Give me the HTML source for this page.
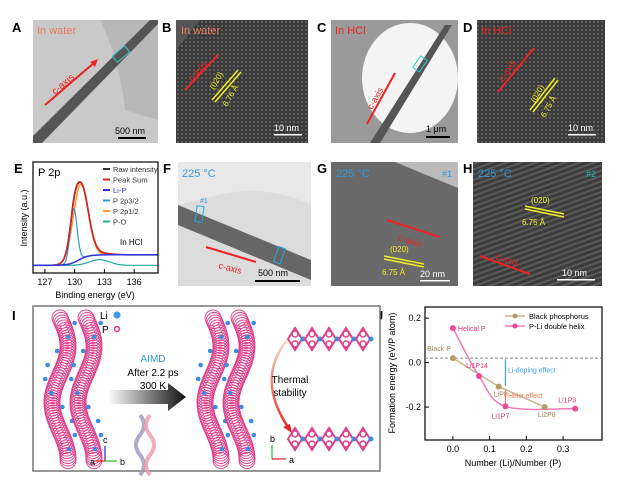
<!DOCTYPE html>
<html><head><meta charset="utf-8"><style>
body{margin:0;background:#fff;}
svg{display:block;font-family:"Liberation Sans",sans-serif;}
</style></head><body>
<svg id="fig" width="636" height="483" viewBox="0 0 636 483">
<defs>
<pattern id="lat" width="4" height="4" patternUnits="userSpaceOnUse"><rect width="4" height="4" fill="#3a3a3a"/><circle cx="2" cy="2" r="1" fill="#6a6a6a"/></pattern>
<pattern id="lines" width="5" height="5" patternUnits="userSpaceOnUse" patternTransform="rotate(-20)"><rect width="5" height="5" fill="#3c3c3c"/><rect width="5" height="2" fill="#5a5a5a"/></pattern>
<linearGradient id="arrowg" x1="0" x2="1"><stop offset="0" stop-color="#fff"/><stop offset="1" stop-color="#111"/></linearGradient>
<linearGradient id="curveg" x1="0" y1="0" x2="0" y2="1"><stop offset="0" stop-color="#f3d9c9"/><stop offset="1" stop-color="#e52b1e"/></linearGradient>
</defs>

<g font-weight="bold" font-size="13" fill="#000">
<text x="12" y="32">A</text>
<text x="162" y="32">B</text>
<text x="317" y="32">C</text>
<text x="463" y="32">D</text>
<text x="14" y="173">E</text>
<text x="163" y="173">F</text>
<text x="317" y="173">G</text>
<text x="463" y="173">H</text>
<text x="12" y="320">I</text>
<text x="376" y="320">J</text>
</g>

<g>
<rect x="33" y="20" width="125" height="123" fill="#c9c9c9"/>
<path d="M100 20 Q120 60 125 110 L158 120 L158 20 Z" fill="#b8b8b8"/>
<polygon points="33,136 33,143 42,143 158,24 158,20 150,20" fill="#555"/>
<rect x="113" y="50" width="16" height="8" fill="none" stroke="#3cc" transform="rotate(-40 121 54)"/>
<line x1="45" y1="105" x2="95" y2="62" stroke="#e22" stroke-width="2"/><polygon points="98,59 90,62 95,67" fill="#e22"/>
<text x="55" y="95" fill="#e22" font-size="10" transform="rotate(-40 55 95)">c-axis</text>
<text x="37" y="34" fill="#e87c5c" font-size="11">In water</text>
<rect x="118" y="137" width="28" height="2" fill="#000"/><text x="115" y="134" font-size="9">500 nm</text>
</g>
<g>
<rect x="176" y="20" width="132" height="123" fill="url(#lat)"/>
<polygon points="176,20 200,20 176,50" fill="#555"/>
<text x="181" y="34" fill="#e87c5c" font-size="11">In water</text>
<line x1="185" y1="90" x2="218" y2="55" stroke="#e22" stroke-width="2"/>
<text x="192" y="82" fill="#e22" font-size="9" transform="rotate(-48 192 82)">c-axis</text>
<line x1="212" y1="100" x2="238" y2="70" stroke="#ee2" stroke-width="1.5"/><line x1="215" y1="102" x2="241" y2="72" stroke="#ee2" stroke-width="1.5"/>
<text x="214" y="90" fill="#ee2" font-size="8" transform="rotate(-60 214 90)">(020)</text>
<text x="227" y="107" fill="#ee2" font-size="8" transform="rotate(-60 227 107)">6.76 Å</text>
<rect x="274" y="134" width="28" height="1.5" fill="#fff"/><text x="274" y="131" fill="#fff" font-size="9">10 nm</text>
</g>
<g>
<rect x="331" y="20" width="127" height="123" fill="#9a9a9a"/>
<ellipse cx="410" cy="78" rx="48" ry="55" fill="#f4f4f4"/>
<polygon points="370,143 380,143 452,25 445,25" fill="#555"/>
<rect x="413" y="60" width="14" height="8" fill="none" stroke="#3cc" transform="rotate(-55 420 64)"/>
<line x1="367" y1="124" x2="395" y2="73" stroke="#e22" stroke-width="2"/>
<text x="372" y="110" fill="#e22" font-size="9" transform="rotate(-60 372 110)">c-axis</text>
<text x="335" y="34" fill="#e22" font-size="11">In HCl</text>
<rect x="426" y="136" width="24" height="2" fill="#000"/><text x="426" y="132" font-size="9">1 μm</text>
</g>
<g>
<rect x="477" y="20" width="128" height="123" fill="url(#lat)"/>
<text x="481" y="34" fill="#e22" font-size="11">In HCl</text>
<line x1="498" y1="92" x2="534" y2="48" stroke="#e22" stroke-width="2"/>
<text x="503" y="82" fill="#e22" font-size="9" transform="rotate(-55 503 82)">c-axis</text>
<line x1="530" y1="110" x2="555" y2="78" stroke="#ee2" stroke-width="1.5"/><line x1="533" y1="112" x2="558" y2="80" stroke="#ee2" stroke-width="1.5"/>
<text x="535" y="103" fill="#ee2" font-size="8" transform="rotate(-60 535 103)">(020)</text>
<text x="545" y="118" fill="#ee2" font-size="8" transform="rotate(-60 545 118)">6.75 Å</text>
<rect x="568" y="134" width="28" height="1.5" fill="#fff"/><text x="568" y="131" fill="#fff" font-size="9">10 nm</text>
</g>

<g id="chartE">
<rect x="33" y="162" width="125" height="111" fill="none" stroke="#000" stroke-width="1.2"/>
<text x="38" y="176" font-size="11">P 2p</text>
<text x="120" y="245" font-size="8">In HCl</text>
<text x="27" y="218" font-size="9" transform="rotate(-90 27 218)" text-anchor="middle">Intensity (a.u.)</text>
<text x="95" y="298" font-size="9" text-anchor="middle">Binding energy (eV)</text>
<g id="eTicks"></g>
<g id="eLines"></g>
<g id="eLegend"></g>
</g>

<g>
<rect x="178" y="162" width="133" height="124" fill="#dcdcdc"/>
<path d="M178 162 L311 162 L311 205 Q260 180 200 200 L178 205 Z" fill="#e8e8e8"/>
<polygon points="178,205 311,260 311,280 178,225" fill="#666"/>
<rect x="196" y="206" width="7" height="16" fill="none" stroke="#2ad" transform="rotate(8 199 214)"/>
<rect x="276" y="247" width="7" height="16" fill="none" stroke="#2ad" transform="rotate(20 279 255)"/>
<text x="200" y="203" fill="#2ad" font-size="7">#1</text>
<line x1="206" y1="247" x2="256" y2="262" stroke="#e22" stroke-width="2"/>
<text x="218" y="268" fill="#e22" font-size="9" transform="rotate(15 218 268)">c-axis</text>
<text x="182" y="177" fill="#39d" font-size="11">225 °C</text>
<rect x="255" y="280" width="45" height="2" fill="#000"/><text x="258" y="276" font-size="9">500 nm</text>
</g>
<g>
<rect x="331" y="162" width="127" height="124" fill="#6a6a6a"/>
<polygon points="395,162 458,162 458,188" fill="#bbb"/>
<text x="336" y="177" fill="#39d" font-size="11">225 °C</text>
<text x="442" y="177" fill="#39d" font-size="9">#1</text>
<line x1="387" y1="220" x2="440" y2="237" stroke="#e22" stroke-width="2"/>
<text x="398" y="240" fill="#e22" font-size="9" transform="rotate(18 398 240)">c-axis</text>
<line x1="384" y1="256" x2="424" y2="264" stroke="#ee2" stroke-width="1.5"/>
<line x1="384" y1="259" x2="424" y2="267" stroke="#ee2" stroke-width="1.5"/>
<text x="390" y="252" fill="#ee2" font-size="8">(020)</text>
<text x="382" y="275" fill="#ee2" font-size="8">6.75 Å</text>
<rect x="420" y="280" width="30" height="1.5" fill="#fff"/><text x="420" y="277" fill="#fff" font-size="9">20 nm</text>
</g>
<g>
<rect x="473" y="162" width="129" height="124" fill="url(#lines)"/>
<text x="478" y="177" fill="#39d" font-size="11">225 °C</text>
<text x="586" y="177" fill="#2bb" font-size="9">#2</text>
<line x1="525" y1="206" x2="564" y2="214" stroke="#ee2" stroke-width="1.5"/>
<line x1="525" y1="209" x2="564" y2="217" stroke="#ee2" stroke-width="1.5"/>
<text x="531" y="203" fill="#ee2" font-size="8">(020)</text>
<text x="522" y="225" fill="#ee2" font-size="8">6.75 Å</text>
<line x1="480" y1="256" x2="530" y2="274" stroke="#e22" stroke-width="2"/>
<text x="495" y="259" fill="#e22" font-size="9" transform="rotate(18 495 259)">c-axis</text>
<rect x="557" y="279" width="38" height="1.5" fill="#fff"/><text x="562" y="276" fill="#fff" font-size="9">10 nm</text>
</g>

<g>
<rect x="33" y="306" width="347" height="165" fill="#fff" stroke="#777" stroke-width="1.5"/>
<g id="helices"></g>
<circle cx="117" cy="315" r="3.5" fill="#39e"/><text x="100" y="319" font-size="10">Li</text>
<circle cx="117" cy="329" r="2.5" fill="none" stroke="#e38" stroke-width="1.5"/><text x="102" y="333" font-size="10">P</text>
<text x="153" y="362" fill="#39d" font-size="10" text-anchor="middle">AIMD</text>
<text x="153" y="376" font-size="10" text-anchor="middle">After 2.2 ps</text>
<text x="153" y="389" font-size="10" text-anchor="middle">300 K</text>
<polygon points="108,390 168,390 168,383 186,397 168,411 168,404 108,404" fill="url(#arrowg)"/>
<path d="M140 415 q8 10 0 20 q-8 10 0 20 q8 10 0 20" stroke="#99b" stroke-width="4" fill="none" opacity="0.8"/>
<path d="M150 415 q-8 10 0 20 q8 10 0 20 q-8 10 0 20" stroke="#e9a" stroke-width="4" fill="none" opacity="0.8"/>
<path d="M287 340 Q255 380 290 430" stroke="url(#curveg)" stroke-width="2.5" fill="none"/>
<polygon points="292,433 283,427 290,424" fill="#e22"/>
<text x="290" y="383" font-size="10" text-anchor="middle">Thermal</text>
<text x="290" y="396" font-size="10" text-anchor="middle">stability</text>
<line x1="105" y1="461" x2="105" y2="446" stroke="#22c" stroke-width="1.2"/><text x="103" y="443" font-size="9">c</text>
<line x1="105" y1="461" x2="95" y2="461" stroke="#d22" stroke-width="1.2"/><text x="90" y="465" font-size="9">a</text>
<line x1="105" y1="461" x2="117" y2="461" stroke="#2b2" stroke-width="1.2"/><text x="120" y="465" font-size="9">b</text>
<line x1="272" y1="459" x2="272" y2="445" stroke="#2b2" stroke-width="1.2"/><text x="270" y="442" font-size="9">b</text>
<line x1="272" y1="459" x2="286" y2="459" stroke="#d22" stroke-width="1.2"/><text x="289" y="463" font-size="9">a</text>
</g>

<g id="chartJ">
<rect x="425" y="307" width="177" height="133" fill="none" stroke="#000" stroke-width="1.2"/>
<text x="395" y="373" font-size="9" transform="rotate(-90 395 373)" text-anchor="middle">Formation energy (eV/P atom)</text>
<text x="513" y="466" font-size="9" text-anchor="middle">Number (Li)/Number (P)</text>
<g id="jTicks"></g>
<g id="jMarks"></g>
<g id="jLegend"></g>
</g>
</svg>
<script>
const NS="http://www.w3.org/2000/svg";
function mk(tag,attrs,parent,txt){const e=document.createElementNS(NS,tag);for(const k in attrs)e.setAttribute(k,attrs[k]);if(txt!==undefined)e.textContent=txt;parent.appendChild(e);return e;}

const eTickValues=[127,130,133,136];
const eTickLabels=["127","130","133","136"];
const eLegendNames=["Raw intensity","Peak Sum","Li-P","P 2p3/2","P 2p1/2","P-O"];
const eLegendColors=["#333","#d22","#33d","#39c","#f93","#2a9"];
const eP32=[129.9,0.56,0.35];
const eP12=[130.6,0.78,0.75];
const eLiP=[131.5,0.11,1.6];
const ePO=[132.5,0.06,1.0];
const eXmin=125.8,eXmax=138.4,eYmin=-0.08,eYmax=1.08;
function ex(v){return 33+(v-eXmin)/(eXmax-eXmin)*125;}
function ey(v){return 273-(v-eYmin)/(eYmax-eYmin)*111;}
const eT=document.getElementById('eTicks');
eTickValues.forEach((v,i)=>{
 const t=mk('line',{x1:ex(v),x2:ex(v),y1:273,y2:269,stroke:'#000'},eT);
 
 
 const l=mk('text',{x:ex(v),y:285,'font-size':9,'text-anchor':'middle'},eT,eTickLabels[i]);
 
 
});
function g(x,p){return p[1]*Math.exp(-((x-p[0])**2)/(2*p[2]*p[2]));}
function liP(x){return eLiP[1]/(1+Math.exp(-(x-130.4)/0.5));}
const eL=document.getElementById('eLines');
function curve(fn,color,name,w){
 let d='';for(let x=eXmin;x<=eXmax;x+=0.05){d+=(d?'L':'M')+ex(x).toFixed(1)+' '+ey(fn(x)).toFixed(1);}
 const p=mk('path',{d:d,fill:'none',stroke:color,'stroke-width':w||1.2},eL);
 
 
}
curve(x=>g(x,ePO),eLegendColors[5],'xps-p-o-line');
curve(x=>liP(x)+g(x,eP12),eLegendColors[4],'xps-p2p12-line',1.5);
curve(x=>liP(x)+g(x,eP32),eLegendColors[3],'xps-p2p32-line');
curve(x=>g(x,eP32)*0.25+g(x,eP12)+liP(x)+g(x,ePO)*0.3+0.03*g(x,eP32),eLegendColors[0],'xps-raw-line',1.6);
curve(x=>g(x,eP32)*0.25+g(x,eP12)+liP(x)+g(x,ePO)*0.3,eLegendColors[1],'xps-peak-sum-line',1.5);
curve(x=>liP(x),eLegendColors[2],'xps-li-p-line',1.5);
const eLg=document.getElementById('eLegend');
eLegendNames.forEach((n,i)=>{
 const y=169+i*10.5;
 const s=mk('line',{x1:103,x2:110,y1:y,y2:y,stroke:eLegendColors[i],'stroke-width':2},eLg);
 
 
 const t=mk('text',{x:113,y:y+3,'font-size':7.5,fill:i==2?'#33d':'#333'},eLg,n);
 
 
});

const jBpX=[0,0.125,0.25];
const jBpY=[0.02,-0.108,-0.2];
const jHxX=[0,0.071,0.143,0.333];
const jHxY=[0.155,-0.06,-0.197,-0.207];
const jXTicks=[0.0,0.1,0.2,0.3];
const jXTickLabels=["0.0","0.1","0.2","0.3"];
const jYTicks=[0.2,0.0,-0.2];
const jYTickLabels=["0.2","0.0","-0.2"];
const jRefLine=0.02;
const jHelixNames=["Helical P","Li1P14","Li1P7","Li1P3"];
const jBpNames=["Black P","LiP8","Li2P8"];
const jXmin=-0.076,jXmax=0.406,jYmin=-0.348,jYmax=0.25;
function jx(v){return 425+(v-jXmin)/(jXmax-jXmin)*177;}
function jy(v){return 440-(v-jYmin)/(jYmax-jYmin)*133;}
const jT=document.getElementById('jTicks');
jXTicks.forEach((v,i)=>{
 const t=mk('line',{x1:jx(v),x2:jx(v),y1:440,y2:436,stroke:'#000'},jT);
 
 
 const l=mk('text',{x:jx(v),y:452,'font-size':9,'text-anchor':'middle'},jT,jXTickLabels[i]);
 
 
});
jYTicks.forEach((v,i)=>{
 const t=mk('line',{x1:425,x2:429,y1:jy(v),y2:jy(v),stroke:'#000'},jT);
 
 
 const l=mk('text',{x:421,y:jy(v)+3,'font-size':9,'text-anchor':'end'},jT,jYTickLabels[i]);
 
 
});
const jM=document.getElementById('jMarks');
const ref=mk('line',{x1:425,x2:602,y1:jy(jRefLine),y2:jy(jRefLine),stroke:'#888','stroke-dasharray':'3,2'},jM);


let bd='';jBpX.forEach((x,i)=>{bd+=(i?'L':'M')+jx(x)+' '+jy(jBpY[i]);});
const bl=mk('path',{d:bd,fill:'none',stroke:'#c8b48e','stroke-width':1.5},jM);


let pts=jHxX.map((x,i)=>[jx(x),jy(jHxY[i])]);
let hd='M'+pts[0][0]+' '+pts[0][1];
for(let i=0;i<pts.length-1;i++){const p0=pts[Math.max(0,i-1)],p1=pts[i],p2=pts[i+1],p3=pts[Math.min(pts.length-1,i+2)];
 hd+=` C${p1[0]+(p2[0]-p0[0])/6} ${p1[1]+(p2[1]-p0[1])/6} ${p2[0]-(p3[0]-p1[0])/6} ${p2[1]-(p3[1]-p1[1])/6} ${p2[0]} ${p2[1]}`;}
const hl=mk('path',{d:hd,fill:'none',stroke:'#f07ab8','stroke-width':1.5},jM);


jBpX.forEach((x,i)=>{
 const c=mk('circle',{cx:jx(x),cy:jy(jBpY[i]),r:3,fill:'#b59a6a'},jM);
 
 
 const t=mk('text',{x:jx(x)+(i==0?-2:2),y:jy(jBpY[i])+(i==0?-7:10),'font-size':7,fill:'#a08552','text-anchor':i==0?'end':'middle'},jM,jBpNames[i]);
 
 
});
jHxX.forEach((x,i)=>{
 const c=mk('circle',{cx:jx(x),cy:jy(jHxY[i]),r:3,fill:'#f0479a'},jM);
 
 
 const off=[[5,3],[-2,-8],[-5,12],[-8,-6]][i];
 const t=mk('text',{x:jx(x)+off[0],y:jy(jHxY[i])+off[1],'font-size':7,fill:'#e0307a','text-anchor':i==0?'start':'middle'},jM,jHelixNames[i]);
 
 
});
const a1=mk('line',{x1:jx(0.143),x2:jx(0.143),y1:jy(0.015),y2:jy(-0.105),stroke:'#3a9ef0','stroke-width':1.2},jM);


const t1=mk('text',{x:jx(0.15),y:jy(-0.045),'font-size':7,fill:'#3a9ef0'},jM,'Li-doping effect');


const a2=mk('line',{x1:jx(0.143),x2:jx(0.143),y1:jy(-0.125),y2:jy(-0.185),stroke:'#f07a50','stroke-width':1.2},jM);


const t2=mk('text',{x:jx(0.15),y:jy(-0.16),'font-size':7,fill:'#f07a50'},jM,'Helix effect');


const jLg=document.getElementById('jLegend');
[["Black phosphorus","#c8b48e","#b59a6a"],["P-Li double helix","#f07ab8","#f0479a"]].forEach((e,i)=>{
 const y=316+i*10;
 const l=mk('line',{x1:505,x2:525,y1:y,y2:y,stroke:e[1],'stroke-width':1.5},jLg);
 
 
 mk('circle',{cx:515,cy:y,r:2.5,fill:e[2]},jLg);
 const t=mk('text',{x:529,y:y+3,'font-size':7.5},jLg,e[0]);
 
 
});

const H=document.getElementById('helices');
function helix(x0,y0,y1){
 for(let y=y0;y<y1;y+=2.5){const off=Math.sin((y-y0)/18)*8;
  mk('circle',{cx:x0+off,cy:y,r:8,fill:'none',stroke:'#e0408a','stroke-width':0.9},H);}
 for(let y=y0+5;y<y1;y+=14){mk('circle',{cx:x0+Math.sin((y-y0)/18+1.5)*15,cy:y,r:2.3,fill:'#3a8de0'},H);}
}
helix(60,318,462);helix(86,318,462);
helix(213,318,462);helix(239,318,462);
function slab(x0,y0){
 for(let i=0;i<5;i++){
  mk('path',{d:`M${x0+i*17} ${y0+11} L${x0+i*17+7} ${y0} L${x0+i*17+14} ${y0+11} L${x0+i*17+7} ${y0+22} Z`,fill:'none',stroke:'#e0408a','stroke-width':2},H);
  mk('circle',{cx:x0+i*17+7,cy:y0+6,r:3,fill:'none',stroke:'#e0408a','stroke-width':1.5},H);
  mk('circle',{cx:x0+i*17+7,cy:y0+16,r:3,fill:'none',stroke:'#e0408a','stroke-width':1.5},H);
  mk('circle',{cx:x0+i*17+15,cy:y0+11,r:2.5,fill:'#3a8de0'},H);}
}
slab(288,328);slab(288,428);
</script>
</body></html>
